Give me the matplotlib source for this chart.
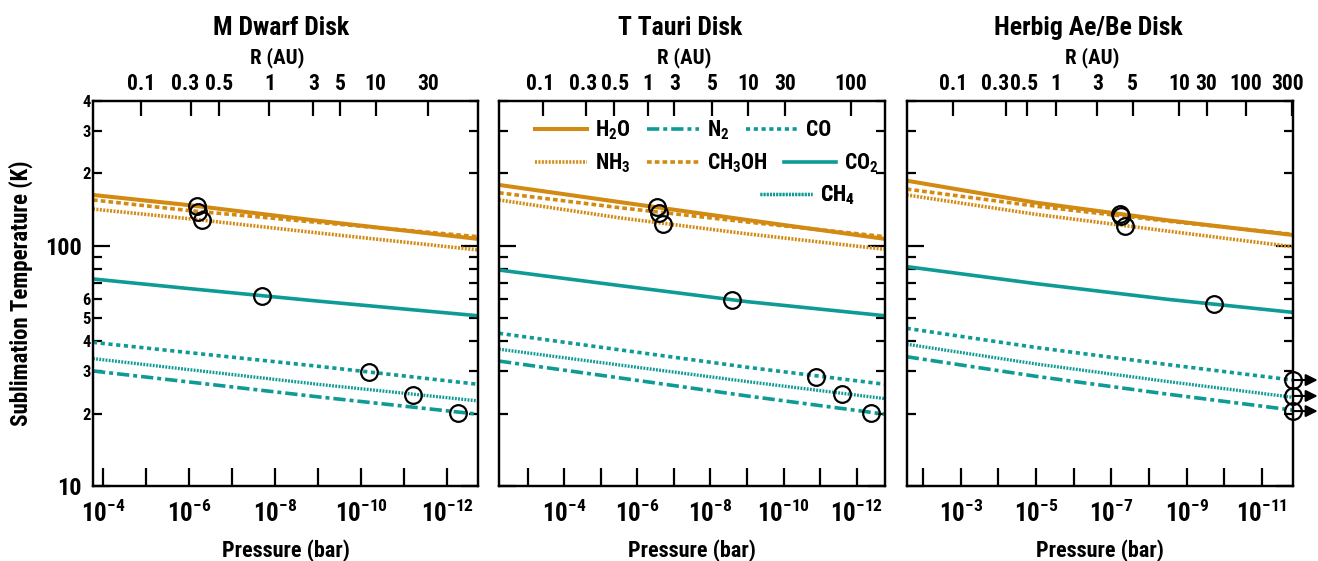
import numpy as np
import matplotlib
matplotlib.use('Agg')
import matplotlib.pyplot as plt
from matplotlib import font_manager as fm
from matplotlib.ticker import FixedLocator, FuncFormatter, NullLocator, FixedFormatter
from matplotlib.lines import Line2D
from matplotlib.transforms import ScaledTranslation

# ---- pick a condensed bold sans if one is installed ----
_pref = ['Liberation Sans Narrow', 'Roboto Condensed', 'Noto Sans', 'Open Sans',
         'DejaVu Sans Condensed', 'DejaVu Sans', 'Noto Sans Display', 'Lato', 'Inter']
_cond = []
for f in fm.fontManager.ttflist:
    st = str(f.stretch).lower()
    if ('condensed' in st and 'semi' not in st and 'extra' not in st and 'ultra' not in st) \
            or 'narrow' in f.name.lower() or 'condensed' in f.name.lower():
        _cond.append(f)
_chosen = None
for nm in _pref:
    for f in _cond:
        if f.name == nm:
            _chosen = f
            break
    if _chosen is not None:
        break
if _chosen is None and _cond:
    _chosen = _cond[0]
NARROW = _chosen is not None
if NARROW:
    plt.rcParams['font.family'] = [_chosen.name, 'DejaVu Sans']
    plt.rcParams['font.stretch'] = _chosen.stretch
else:
    plt.rcParams['font.family'] = ['Liberation Sans', 'DejaVu Sans']
plt.rcParams['font.weight'] = 'bold'
plt.rcParams['mathtext.default'] = 'regular'
FS = 1.0 if NARROW else 0.85

# ---------------- data (log10 pressure in bar, temperature in K) ----------------
species = ['H2O', 'NH3', 'CH3OH', 'CO2', 'CO', 'CH4', 'N2']
species_labels = ['H$_2$O', 'NH$_3$', 'CH$_3$OH', 'CO$_2$', 'CO', 'CH$_4$', 'N$_2$']

# M Dwarf disk
mdwarf_logp = [-3.77, -6.0, -9.0, -12.72]
mdwarf_h2o = [162.6, 147.5, 127.0, 106.7]
mdwarf_nh3 = [142.0, 129.5, 113.0, 96.0]
mdwarf_ch3oh = [155.0, 140.0, 125.0, 109.0]
mdwarf_co2 = [72.7, 66.3, 58.8, 51.1]
mdwarf_co = [39.6, 35.9, 31.5, 26.5]
mdwarf_ch4 = [33.9, 30.5, 26.5, 22.6]
mdwarf_n2 = [30.1, 27.1, 23.5, 19.9]
mdwarf_snow_logp = [-6.18, -6.31, -6.22, -7.69, -10.19, -11.22, -12.26]
mdwarf_snow_T = [146.0, 128.0, 138.5, 61.7, 29.9, 23.85, 20.07]
mdwarf_r_labels = ['0.1', '0.3', '0.5', '1', '3', '5', '10', '30']
mdwarf_r_logp = [-4.88, -6.04, -6.70, -7.87, -8.89, -9.51, -10.34, -11.55]

# T Tauri disk
ttauri_logp = [-2.22, -5.5, -9.0, -12.77]
ttauri_h2o = [179.0, 152.0, 128.0, 106.7]
ttauri_nh3 = [155.0, 130.7, 112.0, 96.6]
ttauri_ch3oh = [166.0, 144.0, 125.5, 109.0]
ttauri_co2 = [79.2, 68.3, 58.5, 51.1]
ttauri_co = [43.2, 36.9, 31.2, 26.5]
ttauri_ch4 = [37.1, 31.9, 27.2, 23.1]
ttauri_n2 = [33.1, 28.2, 23.7, 19.9]
ttauri_snow_logp = [-6.53, -6.71, -6.60, -8.58, -10.88, -11.59, -12.38]
ttauri_snow_T = [144.6, 122.7, 137.2, 59.4, 28.5, 24.1, 20.07]
ttauri_r_labels = ['0.1', '0.3', '0.5', '1', '3', '5', '10', '30', '100']
ttauri_r_logp = [-3.43, -4.60, -5.35, -6.30, -7.01, -8.04, -9.02, -10.04, -11.83]

# Herbig Ae/Be disk
herbig_logp = [-1.56, -5.0, -8.5, -11.82]
herbig_h2o = [186.4, 151.0, 127.5, 110.8]
herbig_nh3 = [162.6, 135.0, 115.0, 99.0]
herbig_ch3oh = [172.0, 146.0, 126.5, 111.5]
herbig_co2 = [81.8, 69.5, 59.8, 52.8]
herbig_co = [45.3, 37.7, 32.0, 27.6]
herbig_ch4 = [38.9, 32.2, 27.2, 23.4]
herbig_n2 = [34.5, 28.6, 24.1, 20.7]
herbig_snow_logp = [-7.22, -7.37, -7.26, -9.72, -11.82, -11.82, -11.82]
herbig_snow_T = [135.1, 121.1, 133.4, 57.2, 27.6, 23.7, 20.5]
herbig_snow_beyond = [False, False, False, False, True, True, True]
herbig_r_labels = ['0.1', '0.3', '0.5', '1', '3', '5', '10', '30', '100', '300']
herbig_r_logp = [-2.80, -4.20, -4.77, -5.52, -6.63, -7.57, -8.81, -9.53, -10.58, -11.80]

panel_titles = ['M Dwarf Disk', 'T Tauri Disk', 'Herbig Ae/Be Disk']

# ---------------- styles ----------------
ORANGE = '#D38A12'
TEAL = '#0E9B95'
styles = {
    'H2O': dict(color=ORANGE, lw=2.9, ls='-'),
    'NH3': dict(color=ORANGE, lw=2.6, ls=(0, (0.55, 0.4))),
    'CH3OH': dict(color=ORANGE, lw=2.6, ls=(0, (1.3, 0.85))),
    'CO2': dict(color=TEAL, lw=2.6, ls='-'),
    'CO': dict(color=TEAL, lw=2.6, ls=(0, (1.15, 1.0))),
    'CH4': dict(color=TEAL, lw=2.4, ls=(0, (0.55, 0.4))),
    'N2': dict(color=TEAL, lw=2.6, ls=(0, (3.4, 1.1, 1.1, 1.1))),
}

# small horizontal nudges (pixels) of the top-axis labels, as in the original figure
panels = [
    dict(pos=[93, 478], xlim=(-3.77, -12.72), logp=mdwarf_logp,
         T=[mdwarf_h2o, mdwarf_nh3, mdwarf_ch3oh, mdwarf_co2, mdwarf_co, mdwarf_ch4, mdwarf_n2],
         snow=(mdwarf_snow_logp, mdwarf_snow_T, None),
         rt=(mdwarf_r_labels, mdwarf_r_logp), nudge=[0, -6, 0, 0, 0, 0, 0, 0],
         dec=range(-4, -13, -1), lab=[-4, -6, -8, -10, -12], tx=0.488, rx=0.478),
    dict(pos=[499, 885], xlim=(-2.22, -12.77), logp=ttauri_logp,
         T=[ttauri_h2o, ttauri_nh3, ttauri_ch3oh, ttauri_co2, ttauri_co, ttauri_ch4, ttauri_n2],
         snow=(ttauri_snow_logp, ttauri_snow_T, None),
         rt=(ttauri_r_labels, ttauri_r_logp), nudge=[-3, -3, 2, 0, 0, 0, 0, 0, 0],
         dec=range(-3, -13, -1), lab=[-4, -6, -8, -10, -12], tx=0.469, rx=0.481),
    dict(pos=[906.7, 1292.7], xlim=(-1.56, -11.82), logp=herbig_logp,
         T=[herbig_h2o, herbig_nh3, herbig_ch3oh, herbig_co2, herbig_co, herbig_ch4, herbig_n2],
         snow=(herbig_snow_logp, herbig_snow_T, herbig_snow_beyond),
         rt=(herbig_r_labels, herbig_r_logp), nudge=[0, -11, -3, 0, 0, 0, 0, 0, 0, -4],
         dec=range(-2, -12, -1), lab=[-3, -5, -7, -9, -11], tx=0.471, rx=0.481),
]

W, H = 1318, 561
fig = plt.figure(figsize=(W / 100, H / 100), dpi=100)
top_px, bot_px = 101, 486
axh = (bot_px - top_px)

for i, p in enumerate(panels):
    x0, x1 = p['pos']
    ax = fig.add_axes([x0 / W, (H - bot_px) / H, (x1 - x0) / W, axh / H])
    ax.set_xscale('log')
    ax.set_yscale('log')
    ax.set_xlim(10 ** p['xlim'][0], 10 ** p['xlim'][1])
    ax.set_ylim(10, 400)
    xp = 10 ** np.array(p['logp'])
    for sp, Tv in zip(species, p['T']):
        ax.plot(xp, Tv, solid_capstyle='butt', dash_capstyle='butt', **styles[sp])
    slp, sT, beyond = p['snow']
    ax.plot(10 ** np.array(slp), sT, 'o', mfc='none', mec='black', ms=12, mew=1.6,
            clip_on=False, zorder=5)
    if beyond is not None:
        for lp, tv, b in zip(slp, sT, beyond):
            if b:
                ax.annotate('', xy=(10 ** lp, tv), xytext=(18, 0), textcoords='offset points',
                            arrowprops=dict(arrowstyle='<|-,head_length=0.7,head_width=0.35',
                                            color='black', lw=1.5, shrinkA=0, shrinkB=0),
                            annotation_clip=False)

    for s in ax.spines.values():
        s.set_linewidth(1.6)

    # bottom pressure axis
    ax.xaxis.set_major_locator(FixedLocator([10.0 ** d for d in p['dec']]))
    ax.xaxis.set_minor_locator(NullLocator())
    labs = p['lab']
    ax.xaxis.set_major_formatter(FuncFormatter(
        lambda v, pos, labs=labs: ('$10^{%d}$' % int(round(np.log10(v)))) if int(round(np.log10(v))) in labs else ''))
    ax.tick_params(axis='x', which='major', direction='in', length=13, width=1.6,
                   labelsize=18 * FS, pad=10, top=False)
    ax.set_xlabel('Pressure (bar)', fontsize=16 * FS, fontweight='bold')
    ax.xaxis.set_label_coords(0.5, -(551 - bot_px) / axh)
    ax.xaxis.label.set_va('center')

    # y axis
    ax.yaxis.set_major_locator(FixedLocator([10, 100]))
    ax.yaxis.set_minor_locator(FixedLocator([20, 30, 40, 50, 60, 70, 80, 90, 200, 300, 400]))
    ax.yaxis.set_major_formatter(FixedFormatter(['10', '100']))
    ax.yaxis.set_minor_formatter(FixedFormatter(['2', '3', '4', '5', '6', '', '', '', '2', '3', '4']))
    ax.tick_params(axis='y', which='major', direction='in', length=12, width=1.6,
                   labelsize=17.5 * FS, pad=8, left=True, right=True)
    ax.tick_params(axis='y', which='minor', direction='in', length=6.5, width=1.6,
                   labelsize=12 * FS, pad=1.5, left=True, right=True)
    if i == 0:
        ax.set_ylabel('Sublimation Temperature (K)', fontsize=16.5 * FS, fontweight='bold')
        ax.yaxis.set_label_coords(-(93 - 21) / axh, 0.5)
        ax.yaxis.label.set_va('center')
    else:
        ax.tick_params(axis='y', which='both', labelleft=False)

    # top radius axis
    ax2 = ax.twiny()
    ax2.set_xscale('log')
    ax2.set_xlim(ax.get_xlim())
    rl, rp = p['rt']
    ax2.xaxis.set_major_locator(FixedLocator([10.0 ** v for v in rp]))
    ax2.xaxis.set_major_formatter(FixedFormatter(rl))
    ax2.xaxis.set_minor_locator(NullLocator())
    ax2.tick_params(axis='x', which='major', direction='in', length=11, width=1.6,
                    labelsize=15.5 * FS, pad=4)
    for tick, dx in zip(ax2.xaxis.get_major_ticks(len(rl)), p['nudge']):
        if dx:
            tick.label2.set_transform(tick.label2.get_transform() +
                                      ScaledTranslation(dx / 100, 0, fig.dpi_scale_trans))
    for s in ax2.spines.values():
        s.set_linewidth(1.6)
    ax2.set_xlabel('R (AU)', fontsize=15 * FS, fontweight='bold')
    ax2.xaxis.set_label_coords(p['rx'], 1 + (top_px - 58) / axh)
    ax2.xaxis.label.set_va('center')
    ax2.text(p['tx'], 1 + (top_px - 28) / axh, panel_titles[i], transform=ax2.transAxes,
             ha='center', va='center', fontsize=18.5 * FS, fontweight='bold')
    p['ax2'] = ax2

# ---------------- legend in the middle panel ----------------
lax = panels[1]['ax2']
h = {sp: Line2D([], [], **styles[sp]) for sp in species}
lab = dict(zip(species, species_labels))
rows = [(['H2O', 'N2', 'CO'], 535, 130), (['NH3', 'CH3OH', 'CO2'], 535, 163), (['CH4'], 760, 195)]
x0 = panels[1]['pos'][0]
for names, lx, ly in rows:
    leg = lax.legend([h[n] for n in names], [lab[n] for n in names], ncol=len(names),
                     loc='center left', bbox_to_anchor=((lx - x0) / 386, (bot_px - ly) / axh),
                     frameon=False, fontsize=15.5 * FS, handlelength=2.4 / FS, handletextpad=0.4,
                     columnspacing=0.75, borderpad=0, borderaxespad=0)
    lax.add_artist(leg)

fig.savefig('out.png', dpi=100)
